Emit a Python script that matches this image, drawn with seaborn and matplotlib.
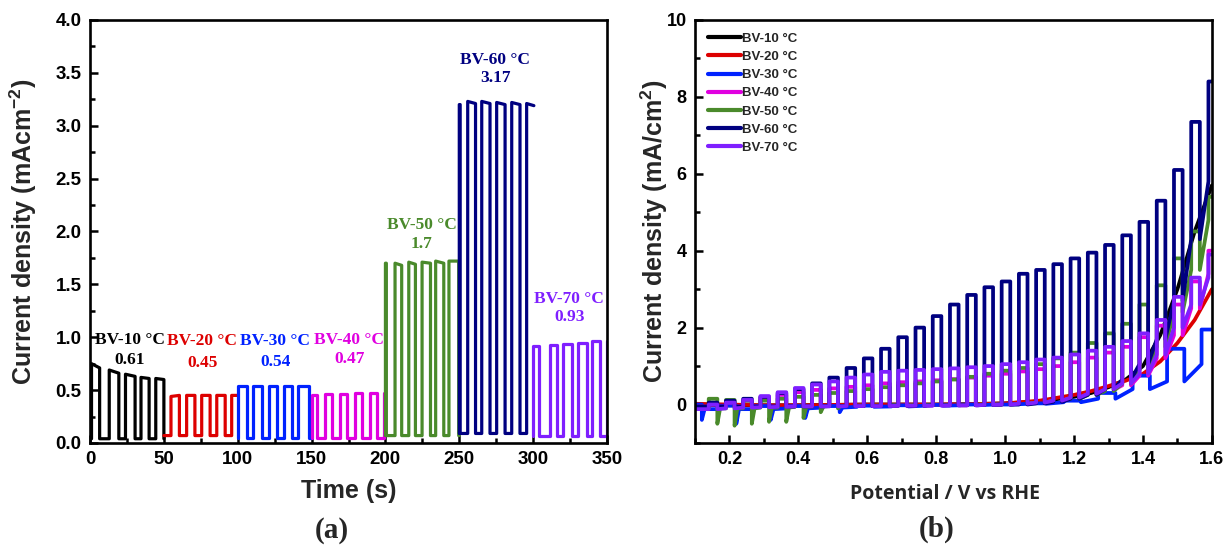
import numpy as np
import pandas as pd
import matplotlib
matplotlib.use("Agg")
import matplotlib.pyplot as plt
import seaborn as sns
from matplotlib.ticker import MultipleLocator

# ---------------- data: panel (a) chopped chronoamperometry ----------------
a_names = ["BV-10 °C", "BV-20 °C", "BV-30 °C", "BV-40 °C", "BV-50 °C", "BV-60 °C", "BV-70 °C"]
a_values = ["0.61", "0.45", "0.54", "0.47", "1.7", "3.17", "0.93"]
a_seg_start = [0, 50, 100, 150, 200, 250, 300]
a_seg_end = [50, 100, 150, 200, 250, 300, 350]
a_on = [
    [1.0, 13.0, 24.0, 34.5, 44.5],
    [54.8, 65.4, 75.6, 85.8, 95.9],
    [100.0, 110.5, 121.0, 131.0, 141.0],
    [150.0, 159.2, 169.3, 179.5, 189.7, 199.2],
    [200.0, 206.5, 215.8, 224.8, 234.0, 243.0],
    [250.0, 255.7, 265.2, 275.3, 285.5, 295.6],
    [300.0, 311.4, 320.5, 330.6, 339.6, 349.8],
]
a_off = [
    [6.5, 19.5, 30.5, 40.0, 50.0],
    [60.5, 71.0, 81.3, 91.5, 100.0],
    [106.0, 116.2, 126.4, 136.6, 148.0],
    [153.5, 163.7, 173.8, 184.0, 194.2, 200.0],
    [200.6, 211.0, 220.3, 230.5, 239.5, 249.6],
    [250.6, 261.0, 270.8, 281.0, 291.1, 300.5],
    [304.2, 316.0, 326.1, 336.3, 345.3, 350.0],
]
a_top_start = [
    [0.75, 0.69, 0.65, 0.62, 0.61],
    [0.44, 0.45, 0.45, 0.45, 0.45],
    [0.54, 0.54, 0.54, 0.54, 0.54],
    [0.45, 0.46, 0.46, 0.47, 0.47, 0.47],
    [1.70, 1.70, 1.71, 1.71, 1.72, 1.72],
    [3.20, 3.23, 3.23, 3.22, 3.22, 3.21],
    [0.92, 0.93, 0.94, 0.95, 0.96, 0.96],
]
a_top_end = [
    [0.71, 0.66, 0.63, 0.61, 0.60],
    [0.45, 0.45, 0.45, 0.45, 0.45],
    [0.54, 0.54, 0.54, 0.54, 0.54],
    [0.45, 0.46, 0.46, 0.47, 0.47, 0.47],
    [1.70, 1.68, 1.69, 1.70, 1.70, 1.72],
    [3.20, 3.21, 3.21, 3.20, 3.20, 3.19],
    [0.92, 0.93, 0.94, 0.95, 0.96, 0.96],
]
a_dark = [0.04, 0.07, 0.05, 0.05, 0.07, 0.09, 0.07]
a_drop_last = [True, False, True, False, True, False, False]
a_label_t = [27, 76, 125.5, 175.5, 224.5, 274.5, 324.5]
a_label_name_y = [0.97, 0.96, 0.965, 0.97, 2.06, 3.62, 1.36]
a_label_val_y = [0.78, 0.76, 0.77, 0.79, 1.88, 3.45, 1.19]

colors = ["#000000", "#dd0000", "#0022ff", "#e000e0", "#4a8a2b", "#000080", "#7f1fff"]

# ---------------- data: panel (b) chopped LSV ----------------
chop_v = [0.14, 0.19, 0.24, 0.29, 0.34, 0.39, 0.44, 0.49, 0.54, 0.59,
          0.64, 0.69, 0.74, 0.79, 0.84, 0.89, 0.94, 0.99, 1.04, 1.09,
          1.14, 1.19, 1.24, 1.29, 1.34, 1.39, 1.44, 1.49, 1.54, 1.59]
navy_light = [0.05, 0.1, 0.15, 0.2, 0.3, 0.4, 0.55, 0.7, 0.95, 1.2,
              1.45, 1.75, 2.0, 2.3, 2.6, 2.85, 3.05, 3.2, 3.4, 3.5,
              3.65, 3.8, 3.95, 4.15, 4.4, 4.75, 5.3, 6.1, 7.35, 8.4]
navy_dark = [-0.05, -0.05, -0.05, -0.05, -0.05, -0.05, -0.05, -0.04, -0.04, -0.04,
             -0.03, -0.03, -0.03, -0.02, -0.02, -0.02, -0.01, 0.0, 0.0, 0.03,
             0.07, 0.15, 0.25, 0.4, 0.65, 1.05, 1.7, 2.7, 4.3, 5.8]
purple_light = [0.0, 0.05, 0.12, 0.22, 0.32, 0.43, 0.52, 0.6, 0.7, 0.78,
                0.85, 0.88, 0.9, 0.92, 0.94, 0.97, 1.0, 1.05, 1.1, 1.17,
                1.22, 1.3, 1.4, 1.5, 1.65, 1.85, 2.2, 2.8, 3.3, 3.9]
purple_dark = [-0.12, -0.1, -0.08, -0.07, -0.06, -0.05, -0.05, -0.05, -0.04, -0.04,
               -0.04, -0.03, -0.03, -0.03, -0.02, -0.02, -0.01, 0.0, 0.02, 0.05,
               0.1, 0.18, 0.28, 0.4, 0.55, 0.8, 1.3, 2.0, 2.6, 3.3]
magenta_light = [0.0, 0.05, 0.1, 0.18, 0.25, 0.32, 0.38, 0.42, 0.46, 0.5,
                 0.55, 0.58, 0.6, 0.63, 0.66, 0.7, 0.75, 0.8, 0.86, 0.92,
                 1.0, 1.1, 1.22, 1.35, 1.5, 1.75, 2.05, 2.6, 3.2, 4.0]
magenta_dark = [-0.05, -0.05, -0.05, -0.05, -0.05, -0.05, -0.04, -0.04, -0.04, -0.04,
                -0.03, -0.03, -0.03, -0.02, -0.02, -0.02, -0.01, 0.0, 0.02, 0.05,
                0.1, 0.17, 0.27, 0.38, 0.5, 0.75, 1.2, 1.8, 2.5, 3.4]
green_light = [0.15, 0.12, 0.1, 0.1, 0.15, 0.2, 0.25, 0.3, 0.35, 0.4,
               0.45, 0.5, 0.55, 0.6, 0.65, 0.72, 0.8, 0.88, 0.95, 1.05,
               1.2, 1.35, 1.6, 1.85, 2.1, 2.6, 3.1, 3.8, 4.5, 5.4]
green_dark = [-0.1, -0.1, -0.1, -0.08, -0.08, -0.06, -0.05, -0.04, -0.03, -0.03,
              -0.02, -0.02, -0.02, -0.01, -0.01, 0.0, 0.0, 0.0, 0.02, 0.05,
              0.1, 0.15, 0.25, 0.35, 0.55, 0.9, 1.5, 2.4, 3.5, 4.8]
green_spike = [-0.5, -0.55, -0.5, -0.45, -0.45, -0.35, -0.2, -0.1]

blue_on = [0.07, 0.17, 0.27, 0.37, 0.47, 0.57, 0.67, 0.77, 0.87, 0.97,
           1.07, 1.17, 1.27, 1.37, 1.47, 1.57]
blue_light = [0.0, -0.03, -0.04, -0.04, -0.04, -0.03, -0.02, -0.01, 0.0, 0.0,
              0.03, 0.1, 0.3, 0.75, 1.45, 1.95]
blue_dark = [-0.12, -0.12, -0.12, -0.1, -0.08, -0.06, -0.05, -0.03, -0.02, 0.0,
             0.02, 0.06, 0.15, 0.4, 0.6, 1.05]
blue_spike = [-0.4, -0.5, -0.4, -0.35, -0.2]

smooth_v = [0.1, 0.2, 0.3, 0.4, 0.5, 0.6, 0.7, 0.8, 0.9, 1.0,
            1.1, 1.2, 1.25, 1.3, 1.35, 1.4, 1.45, 1.5, 1.55, 1.6]
red_i = [0.02, 0.0, -0.02, -0.02, -0.01, 0.0, 0.0, 0.0, 0.01, 0.03,
         0.1, 0.25, 0.35, 0.48, 0.62, 0.8, 1.12, 1.6, 2.2, 3.0]
black_i = [0.0, -0.02, -0.02, -0.02, -0.01, 0.0, 0.0, 0.0, 0.01, 0.03,
           0.08, 0.2, 0.3, 0.45, 0.65, 1.0, 1.8, 3.0, 4.5, 5.7]


# ---------------- path builders ----------------
def pulse_path(t0, t1, on, off, ta, tb, dark, drop_last):
    xs, ys = [], []
    if on[0] > t0:
        xs.append(t0); ys.append(dark)
    n = len(on)
    for k in range(n):
        xs += [on[k], on[k], off[k]]
        ys += [dark, ta[k], tb[k]]
        if k < n - 1 or drop_last:
            xs.append(off[k]); ys.append(dark)
    if drop_last and off[-1] < t1:
        xs.append(t1); ys.append(dark)
    return xs, ys


def chop_path(v_on, width, light, dark, spike=None, start=None):
    xs, ys = [], []
    if start is not None:
        xs.append(start); ys.append(dark[0])
    for k in range(len(v_on)):
        xs += [v_on[k], v_on[k], v_on[k] + width]
        ys += [dark[k], light[k], light[k]]
        if spike is not None and k < len(spike):
            xs += [v_on[k] + width, v_on[k] + width + 0.008]
            ys += [spike[k], dark[k]]
        else:
            xs.append(v_on[k] + width); ys.append(dark[k])
    return xs, ys


rows_a = []
for i, name in enumerate(a_names):
    xs, ys = pulse_path(a_seg_start[i], a_seg_end[i], a_on[i], a_off[i],
                        a_top_start[i], a_top_end[i], a_dark[i], a_drop_last[i])
    rows_a.append(pd.DataFrame({"t": xs, "j": ys, "sample": name}))
dfa = pd.concat(rows_a, ignore_index=True)

b_paths = {}
b_paths["BV-10 °C"] = (smooth_v, black_i)
b_paths["BV-20 °C"] = (smooth_v, red_i)
b_paths["BV-30 °C"] = chop_path(blue_on, 0.05, blue_light, blue_dark, blue_spike)
b_paths["BV-40 °C"] = chop_path(chop_v, 0.025, magenta_light, magenta_dark, start=0.1)
b_paths["BV-50 °C"] = chop_path(chop_v, 0.025, green_light, green_dark, green_spike, start=0.1)
b_paths["BV-60 °C"] = chop_path(chop_v, 0.025, navy_light, navy_dark, start=0.1)
b_paths["BV-70 °C"] = chop_path(chop_v, 0.025, purple_light, purple_dark, start=0.1)
rows_b = [pd.DataFrame({"v": list(b_paths[n][0]), "j": list(b_paths[n][1]), "sample": n})
          for n in a_names]
dfb = pd.concat(rows_b, ignore_index=True)

# ---------------- style ----------------
sns.set_theme(style="white")
plt.rcParams['font.family'] = ['Liberation Sans', 'DejaVu Sans']
plt.rcParams['font.weight'] = 'bold'
plt.rcParams['axes.labelweight'] = 'bold'
plt.rcParams['mathtext.fontset'] = 'custom'
plt.rcParams['mathtext.rm'] = 'Liberation Sans:bold'
plt.rcParams['mathtext.bf'] = 'Liberation Sans:bold'
plt.rcParams['mathtext.it'] = 'Liberation Sans:bold'
plt.rcParams['mathtext.default'] = 'bf'

fig = plt.figure(figsize=(12.25, 5.52), dpi=100)
axa = fig.add_axes([0.0735, 0.1975, 0.4220, 0.7663])
axb = fig.add_axes([0.5673, 0.1975, 0.4220, 0.7663])

pal = dict(zip(a_names, colors))
sns.lineplot(data=dfa, x="t", y="j", hue="sample", hue_order=a_names, palette=pal,
             sort=False, estimator=None, legend=False, lw=2.3, ax=axa)
sns.lineplot(data=dfb, x="v", y="j", hue="sample", hue_order=a_names, palette=pal,
             sort=False, estimator=None, legend=False, lw=2.7, ax=axb)

for ax in (axa, axb):
    for s in ax.spines.values():
        s.set_linewidth(1.9)
        s.set_color("black")
    ax.tick_params(which="both", direction="in", top=False, right=False,
                   left=True, bottom=True, colors="black", width=1.8)
    ax.tick_params(which="major", length=6)
    ax.tick_params(which="minor", length=3.5)

# panel (a)
axa.set_xlim(0, 350)
axa.set_ylim(0, 4.0)
axa.xaxis.set_major_locator(MultipleLocator(50))
axa.xaxis.set_minor_locator(MultipleLocator(25))
axa.yaxis.set_major_locator(MultipleLocator(0.5))
axa.yaxis.set_minor_locator(MultipleLocator(0.25))
axa.yaxis.set_major_formatter(matplotlib.ticker.FormatStrFormatter("%.1f"))
axa.tick_params(which="major", labelsize=13.5, pad=6)
for lab in axa.get_xticklabels() + axa.get_yticklabels():
    lab.set_fontweight("bold")
axa.set_xlabel("Time (s)", fontsize=18, fontweight="bold")
axa.set_ylabel("Current density (mAcm$^{-2}$)", fontsize=18, fontweight="bold")
axa.xaxis.set_label_coords(0.5, -0.085)
axa.yaxis.set_label_coords(-0.098, 0.5)

for i in range(len(a_names)):
    axa.text(a_label_t[i], a_label_name_y[i], a_names[i], color=colors[i], ha="center",
             va="center", fontsize=12.5, fontweight="bold", family=["Liberation Serif"])
    axa.text(a_label_t[i], a_label_val_y[i], a_values[i], color=colors[i], ha="center",
             va="center", fontsize=12.5, fontweight="bold", family=["Liberation Serif"])

# panel (b)
axb.set_xlim(0.1, 1.6)
axb.set_ylim(-1, 10)
axb.xaxis.set_major_locator(MultipleLocator(0.2))
axb.xaxis.set_minor_locator(MultipleLocator(0.1))
axb.yaxis.set_major_locator(MultipleLocator(2))
axb.yaxis.set_minor_locator(MultipleLocator(1))
axb.xaxis.set_major_formatter(matplotlib.ticker.FormatStrFormatter("%.1f"))
axb.tick_params(which="major", labelsize=13, pad=6)
for lab in axb.get_xticklabels() + axb.get_yticklabels():
    lab.set_fontweight("bold")
axb.set_xlabel("Potential / V vs RHE", fontsize=14, fontweight="bold",
               family=["Open Sans", "DejaVu Sans"])
axb.set_ylabel("Current density (mA/cm$^{2}$)", fontsize=18, fontweight="bold")
axb.xaxis.set_label_coords(0.483, -0.097)
axb.yaxis.set_label_coords(-0.048, 0.5)

leg = axb.legend(handles=list(axb.lines[:7]), labels=a_names, loc="upper left",
                 bbox_to_anchor=(0.005, 0.995), frameon=False, fontsize=9.5,
                 handlelength=2.5, handletextpad=0.1, labelspacing=0.45,
                 borderaxespad=0.4)
for t in leg.get_texts():
    t.set_fontweight("bold")
for h in leg.legend_handles:
    h.set_linewidth(3.0)

fig.text(332 / 1225, 1 - 531 / 552, "(a)", ha="center", va="center", fontsize=21,
         fontweight="bold", family=["Liberation Serif"])
fig.text(937 / 1225, 1 - 529 / 552, "(b)", ha="center", va="center", fontsize=21,
         fontweight="bold", family=["Liberation Serif"])

fig.savefig("out.png", dpi=100)
